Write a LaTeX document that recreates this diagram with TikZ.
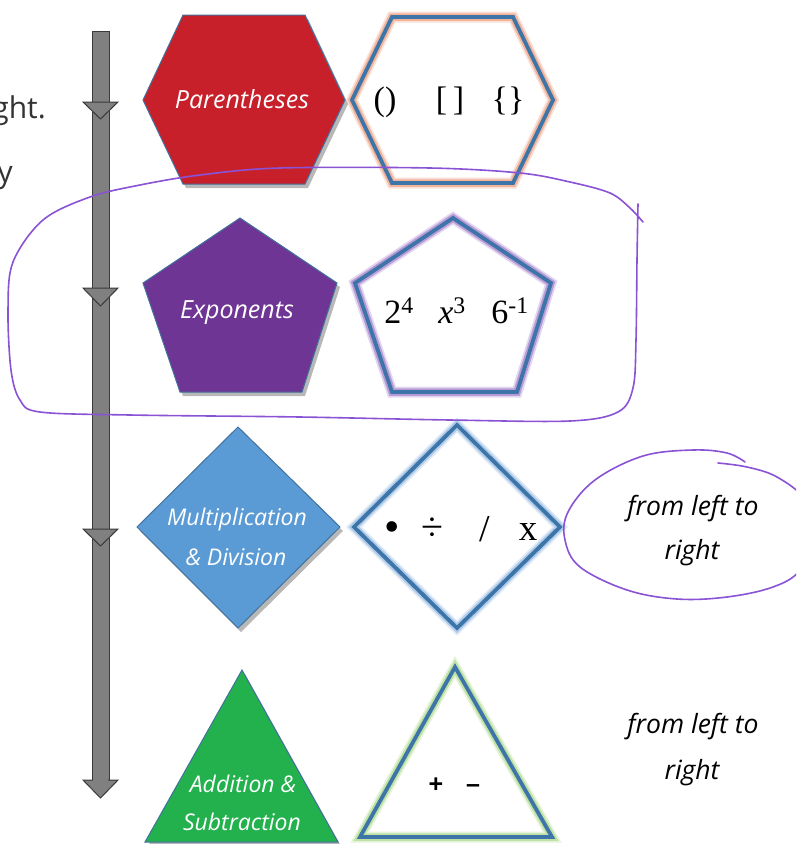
\documentclass[tikz,border=0pt]{standalone}
\usepackage{fontspec}
\setmainfont{Liberation Serif}
\newfontfamily\hand{Open Sans}
\newfontfamily\slide{Open Sans}
\newfontfamily\lsans{Liberation Sans}
\definecolor{cred}{HTML}{C8202A}
\definecolor{cpurple}{HTML}{6F3595}
\definecolor{cblue}{HTML}{5B9BD5}
\definecolor{cgreen}{HTML}{22B14C}
\definecolor{cedge}{HTML}{41719C}
\definecolor{cstroke}{HTML}{3E75A8}
\definecolor{gsalmon}{HTML}{F2B39A}
\definecolor{glav}{HTML}{B99BD8}
\definecolor{glblue}{HTML}{AFCBEA}
\definecolor{glgreen}{HTML}{BFE2A4}
\definecolor{barfill}{HTML}{808080}
\definecolor{baredge}{HTML}{3A3A3A}
\definecolor{ink}{HTML}{8A52D4}
\begin{document}
\begin{tikzpicture}[x=1pt,y=-1pt,
  shapefill/.style={draw=cedge, line width=1pt, line join=miter},
  shade/.style={fill=black, opacity=0.28},
  glowwide/.style={draw=#1, line width=11pt, opacity=0.4, line join=miter},
  glownarrow/.style={draw=#1, line width=7.5pt, line join=miter},
  bluestroke/.style={draw=cstroke, line width=3.8pt, line join=miter},
  hw/.style={font=\hand\itshape\fontsize{25}{29}\selectfont, text=white, anchor=base, inner sep=0pt},
  note/.style={font=\hand\itshape\fontsize{26.5}{30}\selectfont, text=black, anchor=base, inner sep=0pt},
  sym/.style={font=\fontsize{34}{38}\selectfont, anchor=base, inner sep=0pt},
  barstyle/.style={fill=barfill, draw=baredge, line width=1pt, line join=miter},
  inkline/.style={draw=ink, line width=1.6pt, line cap=round, line join=round},
  slidetext/.style={font=\slide\fontsize{30}{34}\selectfont, text=black!80, anchor=base east, inner sep=0pt}]
\useasboundingbox (0,0) rectangle (796,844);
\fill[white] (0,0) rectangle (796,844);

% slide text cut off at the left
\node[slidetext] (ght) at (46,118) {ght.};
\node[slidetext] (yy) at (13,182) {y};

% gray arrow
\path[barstyle] (92,31) rectangle (109,780);
\path[barstyle] (83,102) -- (118,102) -- (100.5,119) -- cycle;
\path[barstyle] (83,288) -- (118,288) -- (100.5,306) -- cycle;
\path[barstyle] (83,529) -- (118,529) -- (100.5,546) -- cycle;
\path[barstyle] (83,780) -- (118,780) -- (100.5,798) -- cycle;
\fill[barfill] (93,775) rectangle (108,782);

% shadows of coloured shapes
\begin{scope}[shift={(3,4)}]
\fill[shade] (143,100) -- (183,15) -- (305,15) -- (345,100) -- (305,184) -- (183,184) -- cycle;
\fill[shade] (240,218) -- (337,283) -- (302,392) -- (180,392) -- (143,283) -- cycle;
\fill[shade] (238,427) -- (340,527) -- (238,628) -- (137,527) -- cycle;
\fill[shade] (242,670) -- (338,842) -- (145,842) -- cycle;
\end{scope}

% coloured shapes
\path[shapefill, fill=cred] (143,100) -- (183,15) -- (305,15) -- (345,100) -- (305,184) -- (183,184) -- cycle;
\path[shapefill, fill=cpurple] (240,218) -- (337,283) -- (302,392) -- (180,392) -- (143,283) -- cycle;
\path[shapefill, fill=cblue] (238,427) -- (340,527) -- (238,628) -- (137,527) -- cycle;
\path[shapefill, fill=cgreen] (242,670) -- (338,842) -- (145,842) -- cycle;

% outlined shapes with glow
\path[glowwide=gsalmon] (352,100) -- (392,17) -- (513,17) -- (553,100) -- (513,183) -- (392,183) -- cycle;
\path[glownarrow=gsalmon] (352,100) -- (392,17) -- (513,17) -- (553,100) -- (513,183) -- (392,183) -- cycle;
\path[bluestroke] (352,100) -- (392,17) -- (513,17) -- (553,100) -- (513,183) -- (392,183) -- cycle;

\path[glowwide=glav] (453,218) -- (551,283) -- (517,392) -- (392,392) -- (355,283) -- cycle;
\path[glownarrow=glav] (453,218) -- (551,283) -- (517,392) -- (392,392) -- (355,283) -- cycle;
\path[bluestroke] (453,218) -- (551,283) -- (517,392) -- (392,392) -- (355,283) -- cycle;

\path[glowwide=glblue] (457,425) -- (560,527) -- (457,628) -- (354,527) -- cycle;
\path[glownarrow=glblue] (457,425) -- (560,527) -- (457,628) -- (354,527) -- cycle;
\path[bluestroke] (457,425) -- (560,527) -- (457,628) -- (354,527) -- cycle;

\path[glowwide=glgreen] (455,667) -- (552,837) -- (360,837) -- cycle;
\path[glownarrow=glgreen] (455,667) -- (552,837) -- (360,837) -- cycle;
\path[bluestroke] (455,667) -- (552,837) -- (360,837) -- cycle;

% labels in coloured shapes
\node[hw] (par) at (242,108) {Parentheses};
\node[hw] (expo) at (237,318) {Exponents};
\node[hw, font=\hand\itshape\fontsize{23}{27}\selectfont] (mult) at (237,525) {Multiplication};
\node[hw, font=\hand\itshape\fontsize{23}{27}\selectfont] (div) at (236,565) {\& Division};
\node[hw, font=\hand\itshape\fontsize{23}{27}\selectfont] (add) at (243,792) {Addition \&};
\node[hw, font=\hand\itshape\fontsize{23}{27}\selectfont] (sub) at (242,830) {Subtraction};

% symbols in outlined shapes
\node[sym] (p1) at (385,110) {()};
\node[sym] (p2) at (450,110) {[\,]};
\node[sym] (p3) at (508,110) {\{\}};

\node[sym] (e1) at (399,323) {2\textsuperscript{4}};
\node[sym] (e2) at (452,323) {\textit{x}\textsuperscript{3}};
\node[sym] (e3) at (510,323) {6\textsuperscript{-1}};

\node[sym, font=\fontsize{44}{44}\selectfont] (m1) at (392,541) {\textbullet};
\node[sym, font=\fontsize{40}{40}\selectfont] (m2) at (432,540) {÷};
\node[sym, font=\fontsize{38}{40}\selectfont] (m3) at (485,541) {/};
\node[sym, font=\fontsize{37}{40}\selectfont] (m4) at (528,540) {x};

\node[font=\lsans\bfseries\fontsize{25}{28}\selectfont, anchor=base, inner sep=0pt] (a1) at (436,792) {+};
\node[font=\lsans\bfseries\fontsize{25}{28}\selectfont, anchor=base, inner sep=0pt] (a2) at (473,792) {–};

% notes on the right
\node[note] (n1) at (693,515) {from left to};
\node[note] (n2) at (692,559) {right};
\node[note] (n3) at (693,733) {from left to};
\node[note] (n4) at (692,779) {right};

% hand-drawn loops
\begin{scope}
\clip (0,0) rectangle (796,844);
\draw[inkline] plot[smooth, tension=0.55] coordinates {
  (638,204) (637,260) (636,340) (633,388) (618,412) (570,421) (450,420) (300,417)
  (130,415) (40,412) (20,400) (11,370) (8,310) (13,262) (43,220) (90,197)
  (140,185) (200,175) (280,168) (430,168) (520,173) (570,182) (610,193) (630,208) (643,222)};
\draw[inkline] plot[smooth, tension=0.6] coordinates {
  (745,462) (727,453) (693,450) (643,456) (595,480) (568,512) (565,540) (580,567)
  (627,590) (677,599) (727,597) (773,587) (800,570) (812,535) (805,500) (777,477)
  (747,467) (718,463)};
\end{scope}
\end{tikzpicture}
\end{document}
